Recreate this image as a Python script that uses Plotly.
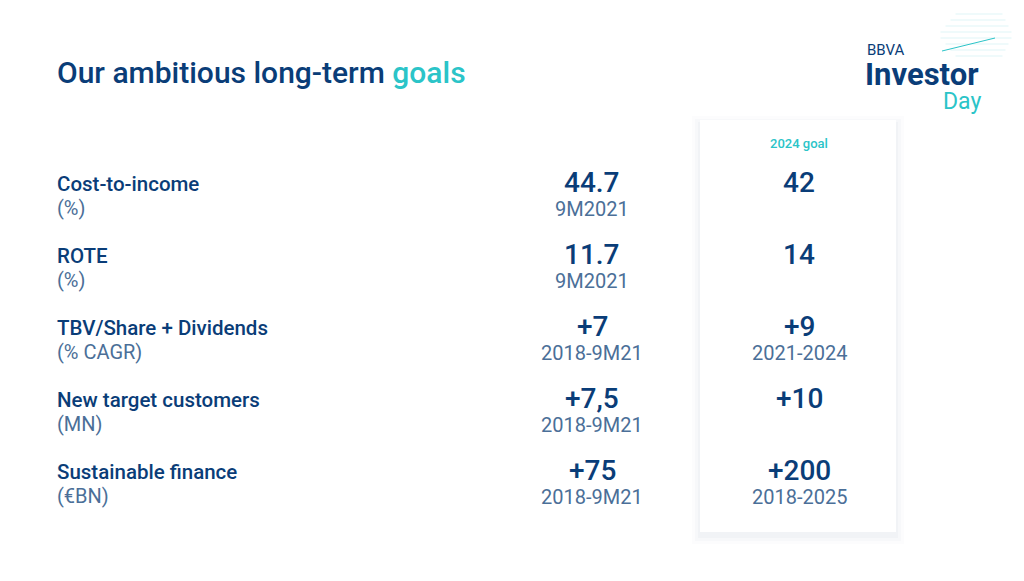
import plotly.graph_objects as go

metrics = ["Cost-to-income", "ROTE", "TBV/Share + Dividends", "New target customers", "Sustainable finance"]
units = ["(%)", "(%)", "(% CAGR)", "(MN)", "(€BN)"]
current = ["44.7", "11.7", "+7", "+7,5", "+75"]
current_period = ["9M2021", "9M2021", "2018-9M21", "2018-9M21", "2018-9M21"]
goal = ["42", "14", "+9", "+10", "+200"]
goal_period = ["", "", "2021-2024", "", "2018-2025"]

NAVY = "#0a3d78"
SUB = "#4b6f98"
AQUA = "#2bc4c8"
FONT = "Roboto"

fig = go.Figure()
# page body margin shifts the plot, so offset the ranges
fig.update_xaxes(range=[10, 1034], visible=False, fixedrange=True)
fig.update_yaxes(range=[589, 8], visible=False, fixedrange=True)

# card with soft shadow
for i, a in enumerate([0.012, 0.018, 0.025]):
    d = 8 - 3 * i
    fig.add_shape(type="rect", x0=702 - d, x1=898 + d, y0=120 - d + 4, y1=532 + d + 4,
                  fillcolor=f"rgba(0,40,90,{a})", line_width=0, layer="below")
fig.add_shape(type="rect", x0=702, x1=898, y0=120, y1=532, fillcolor="white", line_width=0)

ann = []
def txt(x, y, s, size, color, anchor="left", weight="normal", pad=1):
    ann.append(dict(x=x, y=y, text=s, showarrow=False, borderpad=pad,
                    xanchor=anchor, yanchor="middle",
                    font=dict(family=FONT, size=size, color=color, weight=weight)))

ann.append(dict(x=57, y=72, showarrow=False, xanchor="left", yanchor="middle",
                text=f"Our ambitious long-term <span style='color:{AQUA}'>goals</span>",
                font=dict(family=FONT, size=30, color=NAVY, weight=500)))
txt(801, 143, "2024 goal", 13, AQUA, "center", 500)

for i in range(len(metrics)):
    y = 184 + 72 * i
    txt(57, y, metrics[i], 20.5, NAVY, weight=500)
    txt(57, y + 24, units[i], 20, SUB)
    txt(594, y - 2, current[i], 28, NAVY, "center", 500)
    txt(594, y + 25, current_period[i], 20, SUB, "center")
    txt(801, y - 2, goal[i], 28, NAVY, "center", 500)
    if goal_period[i]:
        txt(801, y + 25, goal_period[i], 20, SUB, "center")

# logo
for k in range(8):
    yy = 14 + 6 * k
    fig.add_shape(type="line", x0=940 + abs(k - 3.5) * 5, x1=1015 - abs(k - 3.5) * 3,
                  y0=yy, y1=yy, line=dict(color="rgba(43,196,200,0.15)", width=1))
fig.add_shape(type="line", x0=944, x1=997, y0=51, y1=38, line=dict(color=AQUA, width=1))
txt(868, 50, "BBVA", 15, NAVY, pad=0)
txt(866, 74, "Investor", 31, NAVY, weight="bold", pad=0)
txt(984, 101, "Day", 23, AQUA, "right", pad=0)

fig.update_layout(annotations=ann, width=1024, height=581, margin=dict(l=0, r=0, t=0, b=0),
                  plot_bgcolor="white", paper_bgcolor="white", showlegend=False)
fig.write_html("out.html", config={"displayModeBar": False})
